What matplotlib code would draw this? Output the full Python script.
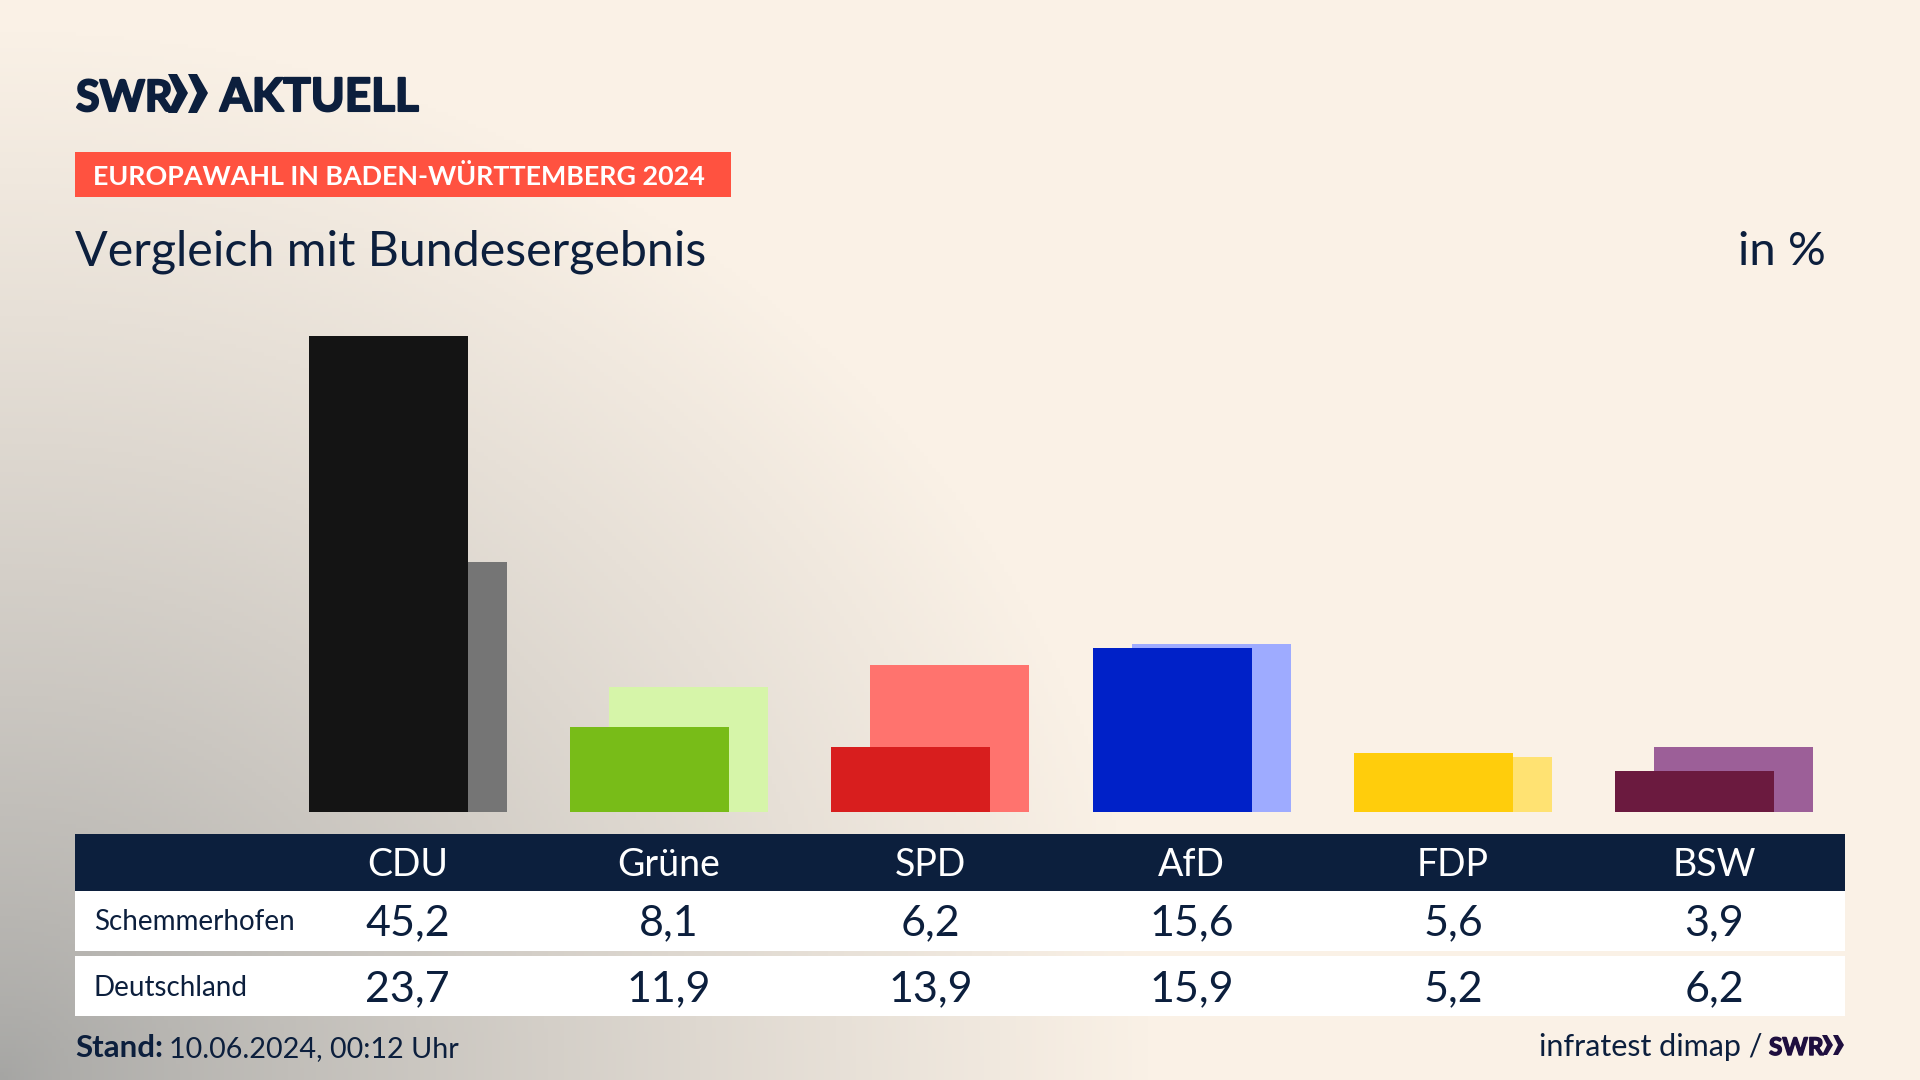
import matplotlib
matplotlib.use("Agg")
import matplotlib.pyplot as plt
import matplotlib.patheffects as pe
from matplotlib.patches import Rectangle, Polygon
import numpy as np

parteien = ["CDU", "Grüne", "SPD", "AfD", "FDP", "BSW"]
schemmerhofen = [45.2, 8.1, 6.2, 15.6, 5.6, 3.9]
deutschland = [23.7, 11.9, 13.9, 15.9, 5.2, 6.2]
zeilen = ["Schemmerhofen", "Deutschland"]

cores_local = ["#141414", "#78BC18", "#D81E1E", "#0021C8", "#FFCD0C", "#6B1A3F"]
cores_bund = ["#757575", "#D6F5A9", "#FF736E", "#9EABFF", "#FFE272", "#9C5F98"]

azul = "#0C1F3D"
bege = np.array([250, 241, 230]) / 255
cinza = np.array([165, 165, 163]) / 255

plt.rcParams['font.family'] = ['Lato', 'DejaVu Sans']

fig = plt.figure(figsize=(19.2, 10.8), dpi=100)

# fundo com gradiente no canto inferior esquerdo
fundo = fig.add_axes([0, 0, 1, 1], zorder=0)
xx, yy = np.meshgrid(np.linspace(0, 1920, 480), np.linspace(0, 1080, 270))
t = np.sqrt((xx / 1150) ** 2 + ((1080 - yy) / 1050) ** 2)
t = np.clip(t, 0, 1)[..., None] ** 0.8
fundo.imshow(cinza + (bege - cinza) * t, extent=(0, 1920, 1080, 0), aspect='auto')
fundo.axis('off')

# camada em pixels para tabela e textos
tela = fig.add_axes([0, 0, 1, 1], zorder=1)
tela.set_xlim(0, 1920)
tela.set_ylim(1080, 0)
tela.axis('off')
tela.patch.set_alpha(0)

# barras
passo = 261.3
centro0 = 407.8
base = 812
px_por_ponto = 10.54
topo = 300
ax = fig.add_axes([75 / 1920, (1080 - base) / 1080, 1770 / 1920, (base - topo) / 1080], zorder=2)
ax.set_xlim((75 - centro0) / passo, (1845 - centro0) / passo)
ax.set_ylim(0, (base - topo) / px_por_ponto)
ax.axis('off')
ax.patch.set_alpha(0)
pos = np.arange(len(parteien))
ax.bar(pos + 0.0746, deutschland, width=0.6085, color=cores_bund)
ax.bar(pos - 0.0746, schemmerhofen, width=0.6085, color=cores_local)

# logo
grosso = [pe.withStroke(linewidth=1.5, foreground=azul)]
tela.text(76, 111, "SWR", fontsize=31, fontweight='bold', color=azul, va='baseline', path_effects=grosso)
for x0 in [168, 188]:
    tela.add_patch(Polygon([[x0, 74], [x0 + 9, 74], [x0 + 20, 93], [x0 + 9, 113], [x0, 113], [x0 + 9, 93]],
                           color=azul, lw=0))
tela.text(220, 111, "AKTUELL", fontsize=33, fontweight='bold', color=azul, va='baseline', path_effects=grosso)

# faixa vermelha e titulos
tela.add_patch(Rectangle((75, 152), 656, 45, color="#FF5240", lw=0))
tela.text(93, 185, "EUROPAWAHL IN BADEN-WÜRTTEMBERG 2024", fontsize=19.4, fontweight='bold',
          color="white", va='baseline')
tela.text(75, 265, "Vergleich mit Bundesergebnis", fontsize=34.8, color=azul, va='baseline')
tela.text(1826, 265, "in %", fontsize=34, color=azul, ha='right', va='baseline')

# tabela
tela.add_patch(Rectangle((75, 834), 1770, 57, color=azul, lw=0))
tela.add_patch(Rectangle((75, 891), 1770, 60, color="white", lw=0))
tela.add_patch(Rectangle((75, 956), 1770, 60, color="white", lw=0))
tela.text(94, 930, zeilen[0], fontsize=20, color=azul, va='baseline')
tela.text(94, 996, zeilen[1], fontsize=20, color=azul, va='baseline')
for i, p in enumerate(parteien):
    cx = centro0 + passo * i
    tela.text(cx, 876, p, fontsize=27, color="white", ha='center', va='baseline')
    tela.text(cx, 935, f"{schemmerhofen[i]:.1f}".replace(".", ","), fontsize=31, color=azul,
              ha='center', va='baseline')
    tela.text(cx, 1001, f"{deutschland[i]:.1f}".replace(".", ","), fontsize=31, color=azul,
              ha='center', va='baseline')

# rodape
tela.text(75, 1057, "Stand:", fontsize=22.5, fontweight='bold', color=azul, va='baseline')
tela.text(169, 1057, "10.06.2024, 00:12 Uhr", fontsize=20.7, color=azul, va='baseline')
tela.text(1539, 1056, "infratest dimap /", fontsize=22, color=azul, va='baseline')
roxo = "#1F0F3F"
tela.text(1769, 1055, "SWR", fontsize=17.5, fontweight='bold', color=roxo, va='baseline',
          path_effects=[pe.withStroke(linewidth=1, foreground=roxo)])
for x0 in [1822, 1833]:
    tela.add_patch(Polygon([[x0, 1035], [x0 + 5, 1035], [x0 + 11, 1045], [x0 + 5, 1055], [x0, 1055], [x0 + 5, 1045]],
                           color=roxo, lw=0))

fig.savefig("out.png", dpi=100)
